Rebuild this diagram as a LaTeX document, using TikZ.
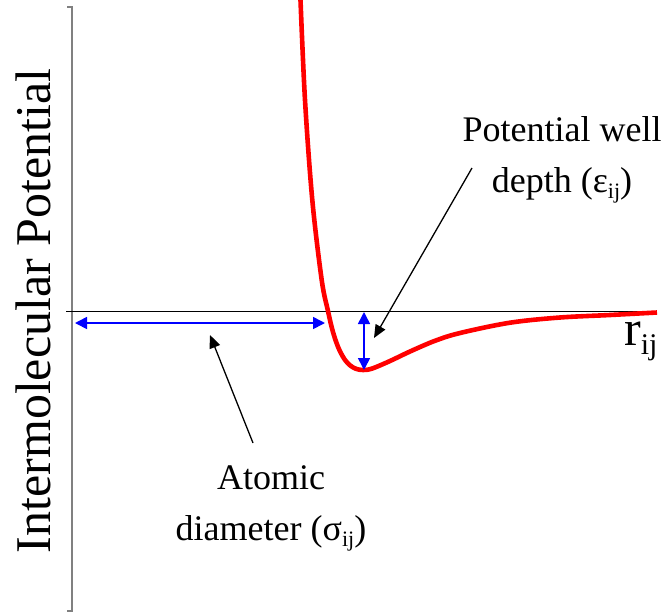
\documentclass[tikz,border=0pt]{standalone}
\usepackage{fontspec}
\setmainfont{Liberation Serif}
\usepackage{xcolor}
\usetikzlibrary{arrows.meta}

\begin{document}
\begin{tikzpicture}[
  x=1pt,y=-1pt,
  lbl/.style={font=\fontsize{36}{51}\selectfont,align=center,inner sep=0pt},
  blu/.style={{Triangle[length=12pt,width=12pt]}-{Triangle[length=12pt,width=12pt]},
              blue,line width=1.6pt},
  ptr/.style={-{Triangle[length=13pt,width=11pt]},black,line width=1.3pt},
  curve/.style={red,line width=4.6pt}
]
\useasboundingbox (0,0) rectangle (665,614);
% axes
\draw[gray,line width=1.5pt] (67,7) -- (72,7) -- (72,611) -- (67,611);
\draw[black,line width=0.8pt] (66,311) coordinate (xl) -- (657,311) coordinate (xr);
\node[rotate=90,anchor=base,inner sep=0pt,font=\fontsize{50}{60}\selectfont]
  (ylab) at (50,311) {Intermolecular Potential};
\node[anchor=base west,inner sep=0pt,font=\fontsize{50}{60}\selectfont]
  (rij) at (624,345) {r\fontsize{30}{36}\selectfont\raisebox{-9pt}{ij}};
% potential curve
\draw[curve] plot[smooth,tension=0.55] coordinates {
  (300.5,0) (305,100) (312.3,200) (321.7,280) (328,311) (332,328.4)
  (336,341.5) (340,351.3) (345,359.9) (350,365.3) (356,368.8) (363,370)
  (372,368.6) (390,361) (410,351.5) (435,340.8) (460,333) (510,322.7)
  (560,317.5) (610,315) (657,312.5)};
% markers
\coordinate (sl) at (75,323);
\coordinate (sr) at (325,323);
\coordinate (et) at (364,312);
\coordinate (eb) at (364,370);
\draw[blu] (sl) -- (sr);
\draw[blu] (et) -- (eb);
% labels
\node[lbl,anchor=base] (well) at (562,192)
  {Potential well\\depth (ε\fontsize{22}{26}\selectfont\raisebox{-6pt}{ij}\fontsize{36}{51}\selectfont)};
\node[lbl,anchor=base] (diam) at (271,540)
  {Atomic\\diameter (σ\fontsize{22}{26}\selectfont\raisebox{-6pt}{ij}\fontsize{36}{51}\selectfont)};
\coordinate (wt) at (472,168);
\coordinate (dt) at (253,443);
\draw[ptr] (wt) -- (374,338);
\draw[ptr] (dt) -- (210,335);
\end{tikzpicture}
\end{document}
